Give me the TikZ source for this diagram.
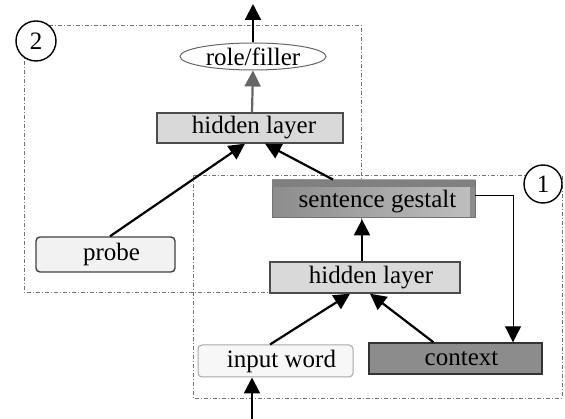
\documentclass[tikz,border=0pt]{standalone}
\usepackage{fontspec}
\setmainfont{Liberation Serif}
\usetikzlibrary{arrows.meta,shapes.geometric,calc}
\begin{document}
\begin{tikzpicture}[x=1pt,y=-1pt,
  every node/.style={font=\fontsize{25}{28}\selectfont, inner sep=0pt},
  layerbox/.style={draw=black!70, line width=1.4pt, fill=black!15, minimum height=30pt},
  roundbox/.style={draw=black!75, line width=1.4pt, rounded corners=4pt, fill=black!5},
  lightbox/.style={draw=black!35, line width=1pt, rounded corners=4pt, fill=black!3},
  darkbox/.style={draw=black!80, line width=1.4pt, fill=black!45},
  region/.style={draw=black!55, line width=0.7pt, dash pattern=on 4pt off 2pt on 1pt off 2pt},
  numcircle/.style={circle, draw=black, line width=1.4pt, fill=white, minimum size=40pt},
  conn/.style={line width=2.2pt, -{Triangle[width=16pt,length=16pt]}},
  thinconn/.style={line width=1pt, -{Triangle[width=16pt,length=16pt]}}
]
\useasboundingbox (0,0) rectangle (565,419);
% dashed regions
\draw[region] (24,25) rectangle (361,292);
\draw[region] (193,175) rectangle (562,398);
% nodes
\node[layerbox, minimum width=186pt] (hid2) at (250,128) {\hspace*{8pt}hidden layer};
\node[ellipse, draw=black!60, line width=1pt, fill=white, minimum width=146pt, minimum height=27pt] (rf) at (253,56.5) {role/filler};
\node[roundbox, minimum width=139pt, minimum height=35pt] (probe) at (105.5,254.5) {\hspace*{12pt}probe};
\node[draw=black!55, line width=0.8pt, left color=black!45, right color=black!25, minimum width=203pt, minimum height=37pt] (sg) at (373.5,198.5) {};
\fill[black!50] (sg.north west) rectangle ($(sg.north east)+(0,7)$);
\fill[black!45] ($(sg.north east)+(-5,7)$) rectangle (sg.south east);
\node at ($(sg.center)+(4,3)$) {sentence gestalt};
\node[layerbox, minimum width=190pt, minimum height=31pt] (hid1) at (365,277.5) {\hspace*{12pt}hidden layer};
\node[lightbox, minimum width=155pt, minimum height=32pt] (inp) at (275.5,361) {\hspace*{12pt}input word};
\node[darkbox, minimum width=173pt, minimum height=31pt] (ctx) at (455.5,358.5) {\hspace*{12pt}context};
\node[numcircle] (c2) at (36,41) {2};
\node[numcircle, minimum size=38pt] (c1) at (543,184) {1};
\coordinate (out) at (253,4);
\coordinate (in) at (252,419);
% connectors
\draw[conn] (in) -- ([xshift=-23.5pt]inp.south);
\draw[conn] ([xshift=-5.5pt]inp.north) -- ([xshift=-15pt]hid1.south);
\draw[conn] ([xshift=-22pt]ctx.north) -- ([xshift=5pt]hid1.south);
\draw[conn] ([xshift=-3pt]hid1.north) -- ([xshift=-11.5pt,yshift=-2pt]sg.south);
\draw[thinconn] ([yshift=3pt]sg.east) -| ([xshift=57.5pt]ctx.north);
\draw[conn] ([xshift=-40.5pt]sg.north) -- ([xshift=15pt]hid2.south);
\draw[conn] ([xshift=4.5pt]probe.north) -- ([xshift=-5pt]hid2.south);
\draw[conn, draw=black!60] ([xshift=2pt]hid2.north) -- (rf.south);
\draw[conn] (rf.north) -- (out);
\end{tikzpicture}
\end{document}
